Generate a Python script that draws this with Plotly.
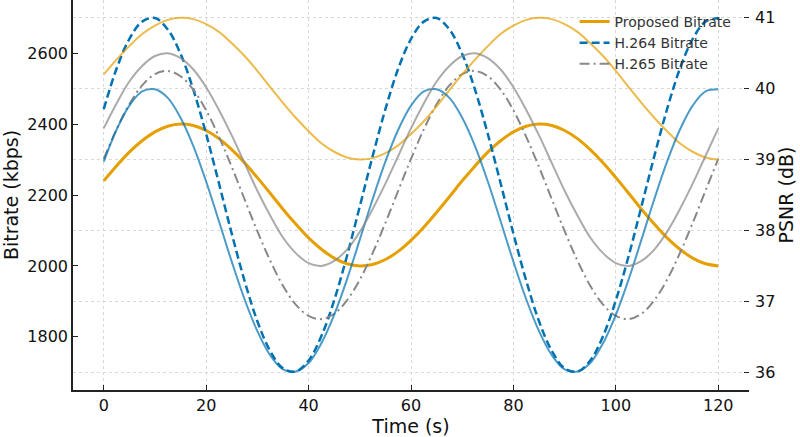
import plotly.graph_objects as go

time_s = [0, 2.5, 5, 7.5, 10, 12.5, 15, 17.5, 20, 22.5, 25, 27.5, 30, 32.5, 35, 37.5, 40, 42.5, 45, 47.5,
          50, 52.5, 55, 57.5, 60, 62.5, 65, 67.5, 70, 72.5, 75, 77.5, 80, 82.5, 85, 87.5, 90, 92.5, 95, 97.5,
          100, 102.5, 105, 107.5, 110, 112.5, 115, 117.5, 120]

proposed_bitrate = [2240, 2282, 2321, 2353, 2378, 2394, 2400, 2396, 2382, 2359, 2328, 2291, 2249, 2205, 2160,
                    2118, 2079, 2047, 2022, 2006, 2000, 2004, 2018, 2041, 2072, 2109, 2151, 2195, 2240, 2282,
                    2321, 2353, 2378, 2394, 2400, 2396, 2382, 2359, 2328, 2291, 2249, 2205, 2160, 2118, 2079,
                    2047, 2022, 2006, 2000]

h264_bitrate = [2442, 2556, 2640, 2689, 2699, 2667, 2598, 2497, 2372, 2233, 2091, 1958, 1844, 1760, 1711,
                1702, 1733, 1802, 1903, 2028, 2168, 2309, 2442, 2556, 2640, 2689, 2699, 2667, 2598, 2497,
                2372, 2233, 2091, 1958, 1844, 1760, 1711, 1702, 1733, 1802, 1903, 2028, 2168, 2309, 2442,
                2556, 2640, 2689, 2699]

h265_bitrate = [2302, 2385, 2456, 2509, 2541, 2550, 2535, 2497, 2439, 2364, 2279, 2188, 2098, 2015, 1944,
                1891, 1859, 1850, 1865, 1903, 1961, 2036, 2121, 2212, 2302, 2385, 2456, 2509, 2541, 2550,
                2535, 2497, 2439, 2364, 2279, 2188, 2098, 2015, 1944, 1891, 1859, 1850, 1865, 1903, 1961,
                2036, 2121, 2212, 2302]

proposed_psnr = [40.20, 40.41, 40.60, 40.77, 40.89, 40.97, 41.00, 40.98, 40.91, 40.80, 40.64, 40.46, 40.25,
                 40.02, 39.80, 39.59, 39.40, 39.23, 39.11, 39.03, 39.00, 39.02, 39.09, 39.20, 39.36, 39.54,
                 39.75, 39.98, 40.20, 40.41, 40.60, 40.77, 40.89, 40.97, 41.00, 40.98, 40.91, 40.80, 40.64,
                 40.46, 40.25, 40.02, 39.80, 39.59, 39.40, 39.23, 39.11, 39.03, 39.00]

h264_psnr = [38.97, 39.42, 39.76, 39.96, 39.99, 39.87, 39.59, 39.19, 38.69, 38.13, 37.56, 37.03, 36.58, 36.24,
             36.04, 36.01, 36.13, 36.41, 36.81, 37.31, 37.87, 38.44, 38.97, 39.42, 39.76, 39.96, 39.99, 39.87,
             39.59, 39.19, 38.69, 38.13, 37.56, 37.03, 36.58, 36.24, 36.04, 36.01, 36.13, 36.41, 36.81, 37.31,
             37.87, 38.44, 38.97, 39.42, 39.76, 39.96, 39.99]

h265_psnr = [39.44, 39.79, 40.10, 40.32, 40.46, 40.50, 40.43, 40.27, 40.02, 39.70, 39.34, 38.95, 38.56, 38.21,
             37.90, 37.68, 37.54, 37.50, 37.57, 37.73, 37.98, 38.30, 38.66, 39.05, 39.44, 39.79, 40.10, 40.32,
             40.46, 40.50, 40.43, 40.27, 40.02, 39.70, 39.34, 38.95, 38.56, 38.21, 37.90, 37.68, 37.54, 37.50,
             37.57, 37.73, 37.98, 38.30, 38.66, 39.05, 39.44]

x_ticks = [0, 20, 40, 60, 80, 100, 120]
left_ticks = [1800, 2000, 2200, 2400, 2600]
right_ticks = [36, 37, 38, 39, 40, 41]

ORANGE = "#E69F00"
BLUE = "#0072B2"
GRAY = "#888888"
FONT = "DejaVu Sans"

fig = go.Figure()
fig.add_trace(go.Scatter(x=time_s, y=proposed_bitrate, name="Proposed Bitrate", mode="lines",
                         line=dict(color=ORANGE, width=3, shape="spline")))
fig.add_trace(go.Scatter(x=time_s, y=h264_bitrate, name="H.264 Bitrate", mode="lines",
                         line=dict(color=BLUE, width=2.5, dash="8px,4px", shape="spline")))
fig.add_trace(go.Scatter(x=time_s, y=h265_bitrate, name="H.265 Bitrate", mode="lines",
                         line=dict(color=GRAY, width=2, dash="10px,4px,2px,4px", shape="spline")))
fig.add_trace(go.Scatter(x=time_s, y=proposed_psnr, name="Proposed PSNR", mode="lines", yaxis="y2",
                         showlegend=False, opacity=0.7,
                         line=dict(color=ORANGE, width=2, shape="spline")))
fig.add_trace(go.Scatter(x=time_s, y=h264_psnr, name="H.264 PSNR", mode="lines", yaxis="y2",
                         showlegend=False, opacity=0.7,
                         line=dict(color=BLUE, width=2, shape="spline")))
fig.add_trace(go.Scatter(x=time_s, y=h265_psnr, name="H.265 PSNR", mode="lines", yaxis="y2",
                         showlegend=False, opacity=0.7,
                         line=dict(color=GRAY, width=2, shape="spline")))

grid = dict(showgrid=True, gridcolor="#d9d9d9", griddash="dot", gridwidth=1)

fig.update_layout(
    width=800, height=437,
    margin=dict(l=73, r=51, t=0, b=47),
    paper_bgcolor="white", plot_bgcolor="white",
    font=dict(family=FONT, size=16, color="#111111"),
    showlegend=True,
    legend=dict(x=0.742, y=0.985, xanchor="left", yanchor="top", bgcolor="rgba(0,0,0,0)",
                font=dict(family=FONT, size=14, color="#333333"), tracegroupgap=0),
    xaxis=dict(range=[-6, 126], tickvals=x_ticks, ticks="inside", ticklen=5, tickcolor="#222",
               showline=True, linecolor="#222", linewidth=1.5, zeroline=False,
               title=dict(text="Time (s)", standoff=2), **grid),
    yaxis=dict(range=[1650, 2750], tickvals=left_ticks, ticks="inside", ticklen=5, tickcolor="#222",
               showline=True, linecolor="#222", linewidth=1.5, zeroline=False,
               title=dict(text="Bitrate (kbps)", standoff=8), showgrid=False),
    yaxis2=dict(range=[35.75, 41.25], tickvals=right_ticks, overlaying="y", side="right",
                ticks="inside", ticklen=5, tickcolor="#222", showline=False, zeroline=False,
                ticklabelstandoff=5,
                title=dict(text="PSNR (dB)", standoff=2), **grid),
)

fig.write_html("out.html")
